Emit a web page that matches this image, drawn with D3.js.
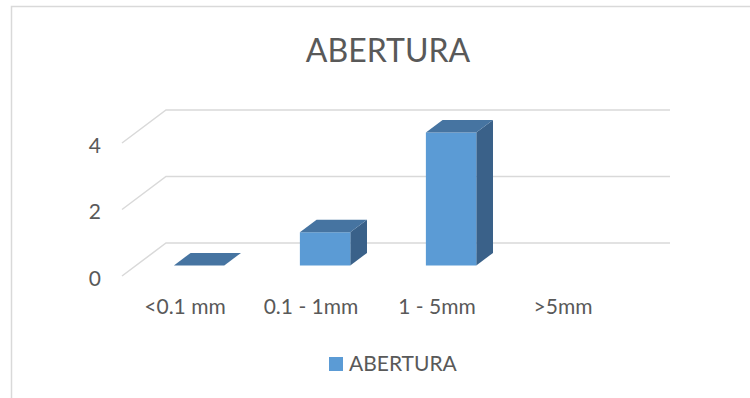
<!DOCTYPE html>
<html>
<head>
<meta charset="utf-8">
<script src="https://cdn.jsdelivr.net/npm/d3@7"></script>
<style>
  html, body { margin: 0; padding: 0; background: #ffffff; }
  svg { display: block; }
  text { font-family: Lato, "Open Sans", sans-serif; fill: #595959; }
</style>
</head>
<body>
<svg id="chart" width="750" height="398"></svg>
<script>
// Data
const title = "ABERTURA";
const seriesName = "ABERTURA";
const categories = ["<0.1 mm", "0.1 - 1mm", "1 - 5mm", ">5mm"];
const values = [0, 1, 4, null];
const yTicks = [0, 2, 4];

const W = 750, H = 398;
const svg = d3.select("#chart");

// Chart frame
svg.append("path")
  .attr("d", "M11.5,398 L11.5,6.5 L750,6.5")
  .attr("fill", "none")
  .attr("stroke", "#d9d9d9")
  .attr("stroke-width", 1.5);

// Oblique 3D projection: depth t in [0,1] shifts a point by (DX*t, DY*t)
const DX = 44, DY = -33;
const x = d3.scaleBand().domain(categories).range([122, 626]).paddingInner(0).paddingOuter(0);
const y = d3.scaleLinear().domain([0, 4]).range([276, 143]);
const proj = (px, v, t) => [px + DX * t, y(v) + DY * t];

// Gridlines: side wall diagonal + back wall line
const grid = svg.append("g");
yTicks.forEach(v => {
  const a = proj(x.range()[0], v, 0);
  const b = proj(x.range()[0], v, 1);
  const c = proj(x.range()[1], v, 1);
  grid.append("path")
    .attr("d", `M${a[0]},${a[1]} L${b[0]},${b[1]} L${c[0]},${c[1]}`)
    .attr("fill", "none")
    .attr("stroke", "#d9d9d9")
    .attr("stroke-width", 1.5);
});

// Y axis labels
svg.append("g").selectAll("text").data(yTicks).join("text")
  .attr("x", 101)
  .attr("y", d => y(d) + 1)
  .attr("text-anchor", "end")
  .attr("dominant-baseline", "central")
  .attr("font-size", 21)
  .text(d => d);

// Bars (front face, top face, right side face)
const gapRatio = 1.5;
const barW = x.bandwidth() / (1 + gapRatio);
const t0 = 0.32, t1 = 0.70;
const colFront = "#5b9bd5", colTop = "#4674a1", colSide = "#3a6189";

const bars = svg.append("g");
categories.forEach((cat, i) => {
  const v = values[i];
  if (v === null || v === undefined) return;
  const xl = x(cat) + (x.bandwidth() - barW) / 2;
  const xr = xl + barW;
  const pt = (px, val, t) => proj(px, val, t).join(",");
  const g = bars.append("g");
  if (v > 0) {
    g.append("path")
      .attr("d", `M${pt(xr, 0, t0)} L${pt(xr, 0, t1)} L${pt(xr, v, t1)} L${pt(xr, v, t0)} Z`)
      .attr("fill", colSide);
    g.append("path")
      .attr("d", `M${pt(xl, 0, t0)} L${pt(xr, 0, t0)} L${pt(xr, v, t0)} L${pt(xl, v, t0)} Z`)
      .attr("fill", colFront);
  }
  g.append("path")
    .attr("d", `M${pt(xl, v, t0)} L${pt(xr, v, t0)} L${pt(xr, v, t1)} L${pt(xl, v, t1)} Z`)
    .attr("fill", colTop);
});

// Category labels
svg.append("g").selectAll("text").data(categories).join("text")
  .attr("x", d => x(d) + x.bandwidth() / 2)
  .attr("y", 313.5)
  .attr("text-anchor", "middle")
  .attr("font-size", 21)
  .text(d => d);

// Title
svg.append("text")
  .attr("x", 388)
  .attr("y", 62)
  .attr("text-anchor", "middle")
  .attr("font-size", 32)
  .text(title);

// Legend
const lg = svg.append("g");
lg.append("rect")
  .attr("x", 329).attr("y", 357)
  .attr("width", 14).attr("height", 14)
  .attr("fill", colFront);
lg.append("text")
  .attr("x", 349).attr("y", 371)
  .attr("font-size", 21)
  .text(seriesName);
</script>
</body>
</html>
